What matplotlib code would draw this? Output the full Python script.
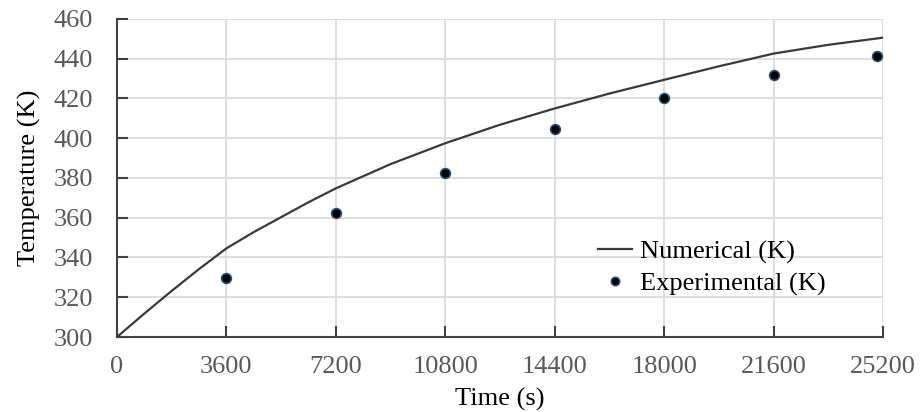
import matplotlib.pyplot as plt

# Numerical curve
t_num = [0, 900, 1800, 2700, 3600, 4500, 5400, 6300, 7200, 9000, 10800,
         12600, 14400, 16200, 18000, 19800, 21600, 23400, 25200]
T_num = [300, 311.8, 323.2, 334.2, 344.6, 352.8, 360.3, 367.8, 374.8,
         387.0, 397.5, 406.8, 415.0, 422.5, 429.4, 436.2, 442.6, 447.0, 450.6]

# Experimental points
t_exp = [3600, 7200, 10800, 14400, 18000, 21600, 25000]
T_exp = [329.6, 362.3, 382.6, 404.6, 420.2, 432.0, 441.2]

x_ticks = [0, 3600, 7200, 10800, 14400, 18000, 21600, 25200]
y_ticks = [300, 320, 340, 360, 380, 400, 420, 440, 460]

plt.rcParams["font.family"] = ["Liberation Serif", "DejaVu Serif"]

fig = plt.figure(figsize=(9.21, 4.12), dpi=100)
ax = fig.add_axes([0.127, 0.182, 0.832, 0.772])

ax.plot(t_num, T_num, color="#3a3a3a", lw=1.6, label="Numerical (K)", zorder=3)
ax.plot(t_exp, T_exp, "o", ms=7, color="black", mec="#1f4e79", mew=1.2,
        label="Experimental (K)", zorder=4)

ax.set_xlim(0, 25200)
ax.set_ylim(300, 460)
ax.set_xticks(x_ticks)
ax.set_yticks(y_ticks)
ax.grid(True, color="#d9d9d9", lw=1.2)
ax.set_axisbelow(True)

for s in ["top", "right"]:
    ax.spines[s].set_visible(False)
for s in ["left", "bottom"]:
    ax.spines[s].set_color("#404040")
    ax.spines[s].set_linewidth(1.5)

ax.tick_params(direction="in", length=8, width=1.5, color="#404040",
               labelsize=19, labelcolor="#595959")
ax.tick_params(axis="y", pad=17)
ax.tick_params(axis="x", pad=14)

ax.set_xlabel("Time (s)", fontsize=19, labelpad=7)
ax.set_ylabel("Temperature (K)", fontsize=19, labelpad=9)

ax.legend(loc="center left", bbox_to_anchor=(0.628, 0.218), frameon=False,
          fontsize=19, handlelength=1.3, handletextpad=0.3, borderpad=0,
          borderaxespad=0, labelspacing=0.3, markerscale=0.85)

fig.savefig("out.png", dpi=100)
